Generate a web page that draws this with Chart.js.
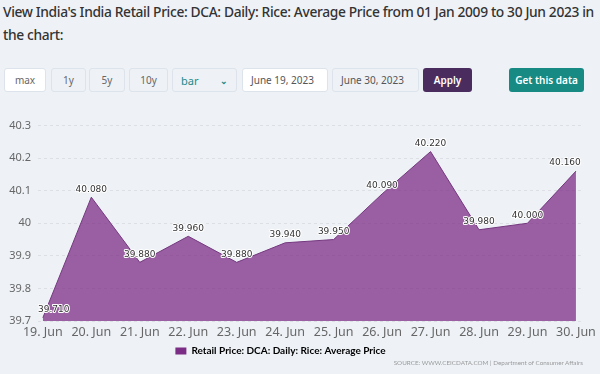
<!DOCTYPE html>
<html>
<head>
<meta charset="utf-8">
<script src="https://cdn.jsdelivr.net/npm/chart.js@4"></script>
<style>
  body { margin: 0; width: 600px; height: 374px; background: #eef2f7; font-family: "Noto Sans", sans-serif; overflow: hidden; position: relative; }
  .title { position: absolute; left: 3px; top: 0; font-size: 13.8px; line-height: 23px; color: #333; font-weight: 500; letter-spacing: -0.36px; white-space: nowrap; }
  .ctl { position: absolute; top: 68px; height: 24px; box-sizing: border-box; border: 1px solid #dde3ea; border-radius: 3px; background: #eef2f7; font-size: 10px; color: #666; display: flex; align-items: center; justify-content: center; }
  .white { background: #fff; }
  .date { justify-content: flex-start; padding-left: 8px; color: #555; }
  .btn { border: none; color: #fff; font-weight: 600; font-size: 10px; }
  #wrap { position: absolute; left: 0; top: 100px; width: 600px; height: 274px; }
  .source { position: absolute; right: 17px; top: 359px; font-family: Lato, sans-serif; font-size: 6.3px; color: #999; }
</style>
</head>
<body>
<div class="title">View India's India Retail Price: DCA: Daily: Rice: Average Price from 01 Jan 2009 to 30 Jun 2023 in<br>the chart:</div>
<div class="ctl white" style="left:4px;width:42px;">max</div>
<div class="ctl" style="left:51px;width:35px;">1y</div>
<div class="ctl" style="left:89px;width:36px;">5y</div>
<div class="ctl" style="left:129px;width:39px;">10y</div>
<div class="ctl" style="left:172px;width:65px;justify-content:space-between;padding:0 8px;color:#1b8a8a;font-size:11px;"><span>bar</span><span style="font-size:9px;font-weight:bold;">&#8964;</span></div>
<div class="ctl white date" style="left:242px;width:86px;">June 19, 2023</div>
<div class="ctl date" style="left:332px;width:87px;">June 30, 2023</div>
<div class="ctl btn" style="left:423px;width:49px;background:#4a2d5e;">Apply</div>
<div class="ctl btn" style="left:509px;width:75px;background:#178a84;">Get this data</div>
<div id="wrap"><canvas id="riceChart"></canvas></div>
<div class="source">SOURCE: WWW.CEICDATA.COM | Department of Consumer Affairs</div>
<script>
const dates = ["19. Jun", "20. Jun", "21. Jun", "22. Jun", "23. Jun", "24. Jun", "25. Jun", "26. Jun", "27. Jun", "28. Jun", "29. Jun", "30. Jun"];
const prices = [39.71, 40.08, 39.88, 39.96, 39.88, 39.94, 39.95, 40.09, 40.22, 39.98, 40.0, 40.16];
const yTicks = [39.7, 39.8, 39.9, 40.0, 40.1, 40.2, 40.3];
const seriesName = "Retail Price: DCA: Daily: Rice: Average Price";

// value labels above each point, kept inside the plot like highcharts does
const pointLabels = {
  id: "pointLabels",
  afterLayout(chart) {
    // legend sits a bit left of centre in the original
    chart.legend.left -= 11;
    chart.legend.right -= 11;
  },
  afterDatasetsDraw(chart) {
    const ctx = chart.ctx;
    const area = chart.chartArea;
    const meta = chart.getDatasetMeta(0);
    ctx.save();
    ctx.font = "9px 'DejaVu Sans'";
    ctx.textAlign = "center";
    ctx.textBaseline = "middle";
    ctx.lineJoin = "round";
    meta.data.forEach((pt, i) => {
      const txt = prices[i].toFixed(3);
      const w = ctx.measureText(txt).width;
      let x = Math.max(pt.x, area.left + w / 2);
      x = Math.min(x, area.right - w / 2);
      const y = pt.y - 8;
      ctx.strokeStyle = "#fff";
      ctx.lineWidth = 2;
      ctx.strokeText(txt, x, y);
      ctx.fillStyle = "#333";
      ctx.fillText(txt, x, y);
    });
    ctx.restore();
  }
};

new Chart("riceChart", {
  type: "line",
  data: {
    datasets: [{
      label: seriesName,
      data: prices.map((v, i) => ({ x: i, y: v })),
      borderColor: "#74387e",
      borderWidth: 1,
      backgroundColor: "rgba(124,45,133,0.75)",
      fill: "start",
      pointRadius: 0,
      tension: 0
    }]
  },
  options: {
    responsive: true,
    maintainAspectRatio: false,
    animation: false,
    layout: { padding: { left: 0, right: 17, top: 25.5, bottom: 8 } },
    scales: {
      x: {
        type: "linear",
        min: -0.1,
        max: 11.1,
        afterBuildTicks: (s) => { s.ticks = dates.map((d, i) => ({ value: i })); },
        ticks: {
          callback: (v) => dates[v],
          color: "#666",
          font: { family: "Noto Sans", size: 12.5 },
          padding: 4,
          maxRotation: 0,
          autoSkip: false
        },
        grid: { display: false, drawTicks: false },
        border: { display: false }
      },
      y: {
        min: 39.7,
        max: 40.3,
        afterBuildTicks: (s) => { s.ticks = yTicks.map((v) => ({ value: v })); },
        afterFit: (s) => { s.width = 38; },
        ticks: {
          callback: (v) => String(Math.round(v * 10) / 10),
          color: "#666",
          font: { family: "Noto Sans", size: 11 },
          padding: 7
        },
        grid: { color: "#dcdfe4", drawTicks: false, lineWidth: 1 },
        border: { display: false, dash: [3, 3] }
      }
    },
    plugins: {
      legend: {
        position: "bottom",
        labels: {
          boxWidth: 11,
          boxHeight: 7,
          padding: 2,
          color: "#555",
          font: { family: "Lato", size: 10, weight: "bold" },
          generateLabels: (chart) => [{
            text: seriesName,
            fillStyle: "#7b2d85",
            strokeStyle: "#7b2d85",
            lineWidth: 0,
            datasetIndex: 0
          }]
        }
      },
      tooltip: { enabled: false }
    }
  },
  plugins: [pointLabels]
});
</script>
</body>
</html>
